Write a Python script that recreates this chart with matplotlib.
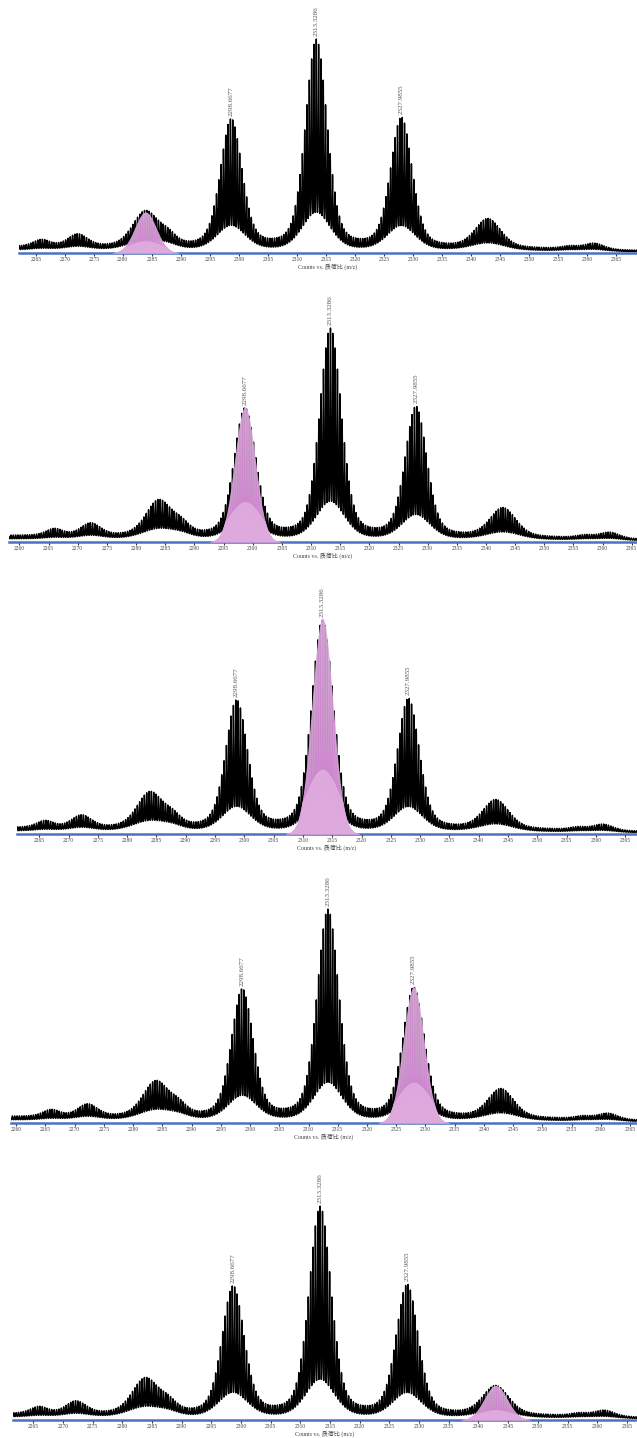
import numpy as np
import matplotlib
matplotlib.use('Agg')
import matplotlib.pyplot as plt

# ---- spectrum description (relative intensities) ----
peak_mz    = [2266.0, 2272.2, 2283.9, 2287.8, 2298.67, 2313.33, 2327.99, 2342.9, 2357.0, 2361.2]
peak_upper = [0.030, 0.055, 0.160, 0.040, 0.585, 0.955, 0.595, 0.130, 0.012, 0.028]
peak_lower = [0.006, 0.015, 0.045, 0.015, 0.110, 0.170, 0.110, 0.032, 0.004, 0.008]
peak_fwhm  = [3.4, 4.0, 5.2, 3.4, 4.4, 4.4, 4.4, 5.2, 3.4, 4.0]

base_mz    = [2256.0, 2300.0, 2345.0, 2369.0]
base_upper = [0.030, 0.028, 0.024, 0.011]
base_lower = [0.014, 0.013, 0.012, 0.005]

label_mz   = [2298.6677, 2313.3286, 2327.9855]
label_text = ['2298.6677', '2313.3286', '2327.9855']

highlight_mz     = [2283.9, 2298.67, 2313.33, 2327.99, 2342.9]
highlight_height = [0.190, 0.625, 1.000, 0.630, 0.160]
highlight_fwhm   = [4.4, 4.2, 4.2, 4.2, 4.6]

panel_xlim   = [(2262.1, 2368.6), (2258.2, 2365.9), (2261.2, 2367.0),
                (2259.1, 2366.2), (2261.6, 2366.7)]
panel_tick0  = [2265, 2260, 2265, 2260, 2265]
panel_axis_y = [253, 542, 834, 1123, 1420]
panel_left   = [19, 9, 17, 11, 13]

xlabel_text = 'Counts vs. 质荷比 (m/z)'
FONT = ['Liberation Serif', 'Noto Sans CJK SC', 'DejaVu Sans']

W, H = 637, 1438
fig = plt.figure(figsize=(W / 100, H / 100), dpi=100)

x = np.arange(2255.0, 2370.0, 0.01)


def pv(xx, c, fwhm, eta=0.3):
    s = fwhm / 2.3548
    g = np.exp(-0.5 * ((xx - c) / s) ** 2)
    l = 1.0 / (1.0 + ((xx - c) / (fwhm / 2)) ** 2)
    return (1 - eta) * g + eta * l


upper = np.interp(x, base_mz, base_upper)
lower = np.interp(x, base_mz, base_lower)
for c, hu, hl, w in zip(peak_mz, peak_upper, peak_lower, peak_fwhm):
    upper = upper + hu * pv(x, c, w)
    lower = lower + hl * pv(x, c, w * 1.3)

period = 0.4
d = ((x - 2313.33) / period + 0.5) % 1.0 - 0.5
spike = np.exp(-0.5 * (d * period / 0.06) ** 2)
profile = lower + (upper - lower) * spike
spike_p = np.exp(-0.5 * (d * period / 0.08) ** 2)

PX_PER_UNIT = 216.0
AX_H = 250.0

for k in range(5):
    bottom_px = panel_axis_y[k]
    left_px = panel_left[k]
    ax = fig.add_axes([left_px / W, 1 - bottom_px / H, (W - left_px) / W, AX_H / H])
    ax.set_xlim(*panel_xlim[k])
    ax.set_ylim(0, AX_H / PX_PER_UNIT)

    ax.plot(x, profile, color='black', lw=1.05, zorder=2)

    # highlighted (pink) peak
    c = highlight_mz[k]
    hp = highlight_height[k] * np.exp(-0.5 * ((x - c) / (highlight_fwhm[k] / 2.3548)) ** 2)
    lp = 0.30 * highlight_height[k] * np.exp(-0.5 * ((x - c) / (highlight_fwhm[k] * 0.7)) ** 2)
    lp = np.minimum(lp, hp)
    m = hp > 0.002
    ax.fill_between(x[m], 0, hp[m], color='#dcaadc', alpha=0.93, lw=0, zorder=3)
    ax.fill_between(x[m], 0, (lp + (hp - lp) * spike_p)[m], color='#cf86cf', alpha=0.85, lw=0, zorder=3.1)
    ax.fill_between(x[m], 0, lp[m], color='#e4b8e4', alpha=0.7, lw=0, zorder=3.2)

    # peak labels
    for lm, lt in zip(label_mz, label_text):
        i = np.argmin(np.abs(x - lm))
        top = upper[max(i - 15, 0):i + 15].max()
        ax.annotate(lt, (lm, top), xytext=(0, 2), textcoords='offset points',
                    rotation=90, ha='center', va='bottom', fontsize=5.0,
                    color='#555555', family=FONT, annotation_clip=False)

    for s in ['top', 'left', 'right']:
        ax.spines[s].set_visible(False)
    ax.spines['bottom'].set_color('#4a72c0')
    ax.spines['bottom'].set_linewidth(1.8)
    ax.set_yticks([])
    ticks = list(range(panel_tick0[k], 2366, 5))
    ax.set_xticks(ticks)
    ax.set_xticklabels([str(t) for t in ticks], fontsize=4.0, color='#444444', family=FONT)
    ax.tick_params(axis='x', length=2, width=0.8, color='#333333', pad=1.2)
    ax.set_xlabel(xlabel_text, fontsize=4.3, color='#444444', family=FONT, labelpad=0.8)
    ax.patch.set_alpha(0)

fig.savefig('out.png', dpi=100)
